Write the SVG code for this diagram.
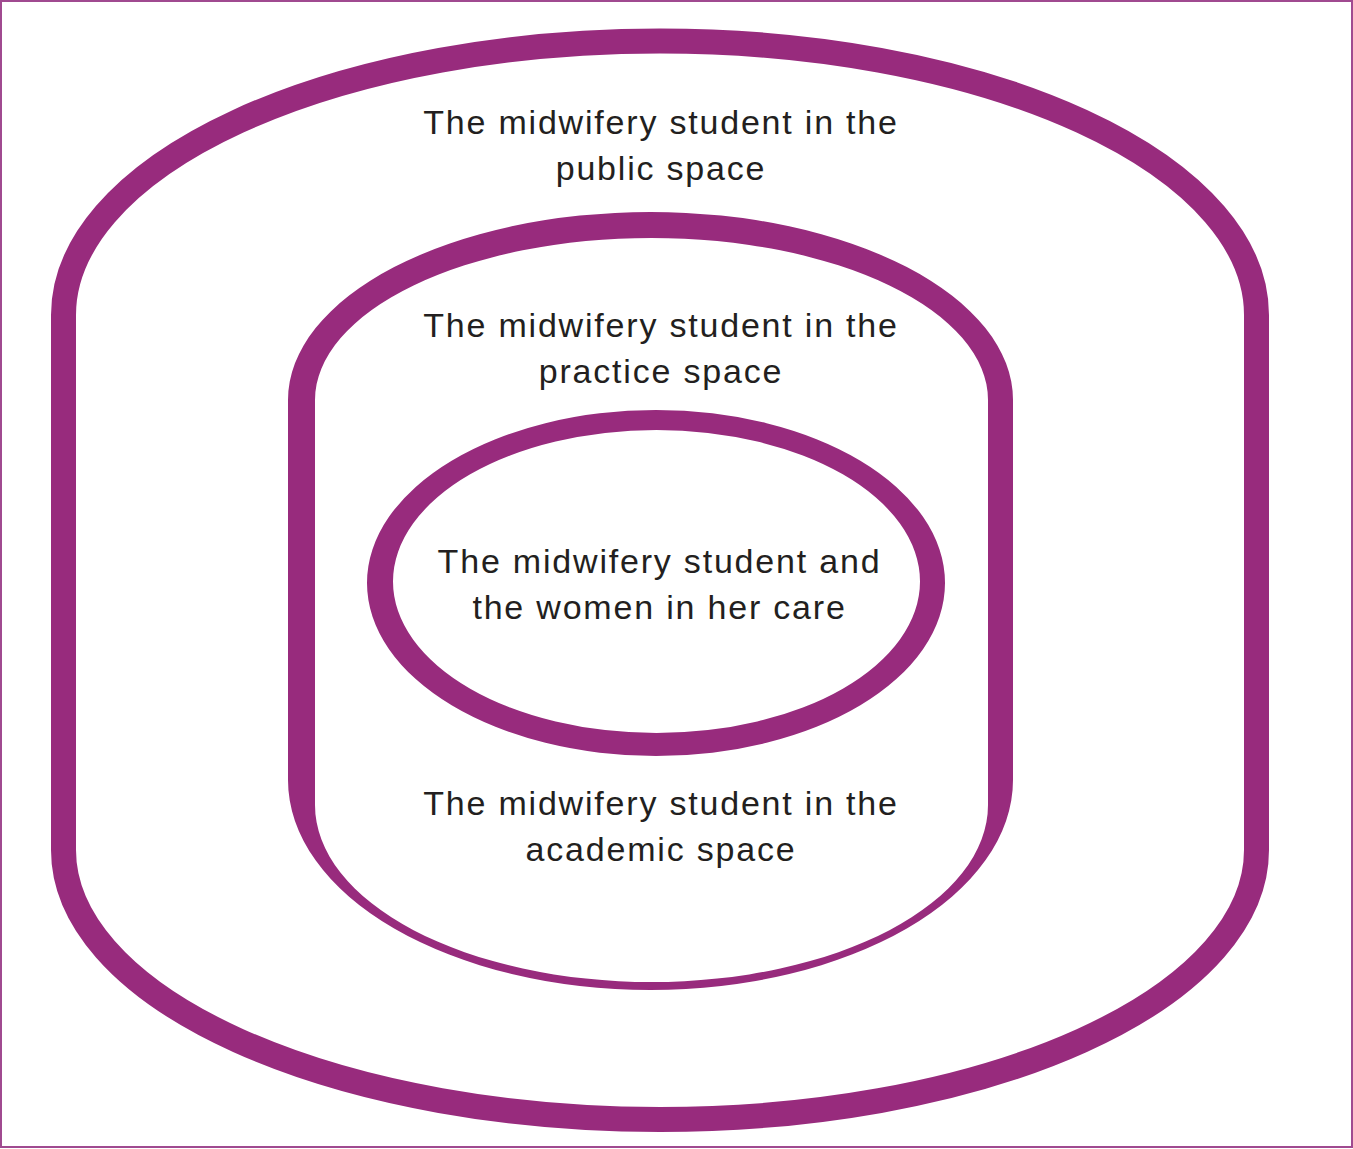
<svg xmlns="http://www.w3.org/2000/svg" width="1353" height="1149" viewBox="0 0 1353 1149">
  <style>
    .ring { fill: #982b7d; fill-rule: evenodd; stroke: none; }
    .ringstroke { fill: none; stroke: #982b7d; stroke-width: 25; }
    .label { font-family: "Liberation Sans", Arial, sans-serif; font-size: 34px; letter-spacing: 1.8px; fill: #231f20; text-anchor: middle; }
  </style>
  <rect x="0" y="0" width="1353" height="1149" fill="#ffffff"/>
  <rect id="frame" x="1" y="1" width="1351" height="1146" fill="none" stroke="#a04a90" stroke-width="2"/>

  <g id="public-space">
    <path class="ringstroke" d="M 63.5,315 A 596.5,274 0 0 1 1256.5,315 L 1256.5,850 A 596.5,269.5 0 0 1 63.5,850 Z"/>
    <text class="label" x="661" y="134">The midwifery student in the</text>
    <text class="label" x="661" y="180">public space</text>
  </g>

  <g id="practice-academic-space">
    <path class="ring" d="M 288,400 A 362.5,188 0 0 1 1013,400 L 1013,780 A 362.5,210 0 0 1 288,780 Z M 315,400 A 336.5,162 0 0 1 988,400 L 988,805 A 336.5,177 0 0 1 315,805 Z"/>
    <text class="label" x="661" y="337">The midwifery student in the</text>
    <text class="label" x="661" y="383">practice space</text>
    <text class="label" x="661" y="815">The midwifery student in the</text>
    <text class="label" x="661" y="861">academic space</text>
  </g>

  <g id="women-in-care">
    <path class="ring" d="M 367,583 A 289,173 0 1 0 945,583 A 289,173 0 1 0 367,583 Z M 393,581.5 A 263.5,151.5 0 1 0 920,581.5 A 263.5,151.5 0 1 0 393,581.5 Z"/>
    <text class="label" x="659.5" y="573">The midwifery student and</text>
    <text class="label" x="659.5" y="619">the women in her care</text>
  </g>

  <g id="connectors"/>
</svg>
